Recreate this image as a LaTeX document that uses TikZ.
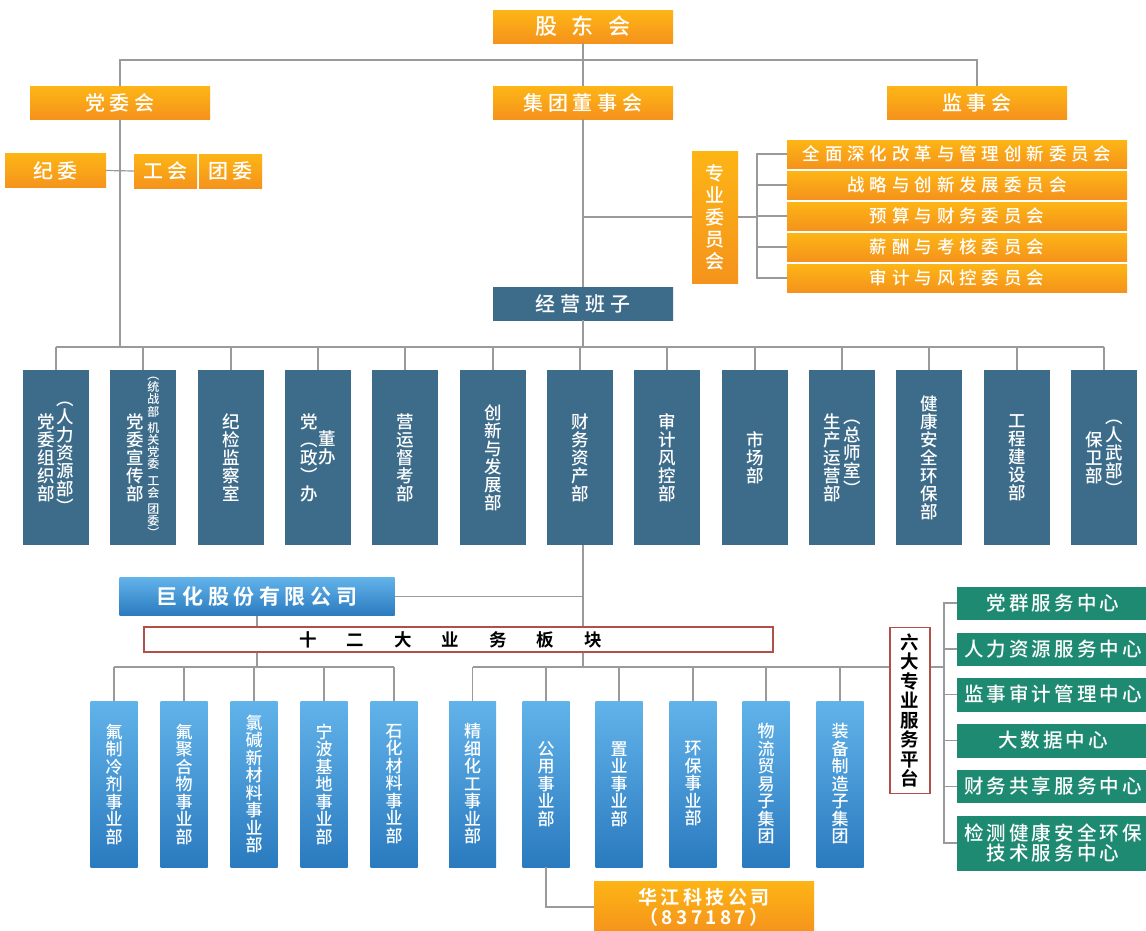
\documentclass[tikz,border=0pt]{standalone}
\usepackage{fontspec}
\setmainfont{Noto Sans CJK SC Medium}[BoldFont={Noto Sans CJK SC Bold}]
\definecolor{orgtop}{HTML}{FDB515}
\definecolor{orgbot}{HTML}{F5931C}
\definecolor{deptblue}{HTML}{3D6C8B}
\definecolor{butop}{HTML}{62B3EA}
\definecolor{bubot}{HTML}{2A7ABF}
\definecolor{svcgreen}{HTML}{1F8A72}
\definecolor{brdred}{HTML}{B24F48}
\definecolor{linegray}{HTML}{9A9A9A}
% vertical text: one character per line
\newcommand\colgap{}
\def\vtxtA#1{\ifx#1\relax\else\ifx#1\colgap\kern4pt\else\hbox to 1em{\hss#1\hss}\fi\expandafter\vtxtA\fi}
\newcommand\vtxt[2][]{\vcenter{#1\vtxtA#2\relax}}
\begin{document}
\begin{tikzpicture}[x=1pt,y=-1pt]
        \tikzstyle{block} = [rectangle, inner sep=0pt, text=white, align=center]
        \tikzstyle{orgbox} = [block, top color=orgtop, bottom color=orgbot]
        \tikzstyle{title} = [orgbox, minimum width=180, minimum height=33, font={\fontsize{20}{22}\selectfont\addfontfeature{LetterSpace=24}}]
        \tikzstyle{cmte} = [orgbox, minimum width=340, minimum height=28, font={\fontsize{17.5}{19}\selectfont\addfontfeature{LetterSpace=28}}]
        \tikzstyle{dept} = [block, fill=deptblue, minimum width=66, minimum height=175, font=\fontsize{17.5}{18}\selectfont]
        \tikzstyle{unit} = [block, top color=butop, bottom color=bubot, minimum width=47, minimum height=166, font=\fontsize{17}{17.5}\selectfont]
        \tikzstyle{svc} = [block, fill=svcgreen, minimum width=192, font={\fontsize{19.5}{20}\selectfont\addfontfeature{LetterSpace=16}}]
        \tikzstyle{frame} = [block, fill=white, draw=brdred, line width=1.3, text=black, font=\bfseries]
        \tikzstyle{line} = [draw=linegray, line width=1.2]
        \fill[white] (0,0) rectangle (1146,930);
        \useasboundingbox (0,0) rectangle (1146,930);
        \coordinate (topbus) at (0,60);
        \coordinate (deptbus) at (0,347);
        \coordinate (bus2) at (0,667);
        \coordinate (brk) at (757,0);
        \coordinate (sbrk) at (944,0);
        % governance
        \node[title, font=\fontsize{22}{24}\selectfont] (gdh) at (583,26.5) {股\hspace{15pt}东\hspace{15pt}会};
        \node[title] (dwh) at (120,102.5) {党委会};
        \node[title] (jtdsh) at (583,102.5) {集团董事会};
        \node[title] (jsh) at (977,102.5) {监事会};
        \node[title, minimum width=101, minimum height=34] (jw) at (55.5,170.5) {纪委};
        \node[title, minimum width=63, minimum height=34] (gh) at (165.5,171) {工会};
        \node[title, minimum width=63, minimum height=34] (tw) at (230.5,171) {团委};
        \node[orgbox, minimum width=46, minimum height=132, font=\fontsize{19}{22}\selectfont] (zywyh) at (715,217) {$\vtxt{专业委员会}$};
        \node[cmte] (c1) at (957,154) {全面深化改革与管理创新委员会};
        \node[cmte] (c2) at (957,185) {战略与创新发展委员会};
        \node[cmte] (c3) at (957,216) {预算与财务委员会};
        \node[cmte] (c4) at (957,247) {薪酬与考核委员会};
        \node[cmte] (c5) at (957,278) {审计与风控委员会};
        \node[title, fill=deptblue, top color=deptblue, bottom color=deptblue] (jybz) at (583,303.5) {经营班子};
        % functional departments
        \node[dept] (d1) at (56,457.5) {$\vtxt{党委组织部}\kern2pt\vtxt{︵人力资源部︶}$};
        \node[dept] (d2) at (143,457.5) {$\vtxt{党委宣传部}\kern3pt\vtxt[\fontsize{12}{12.2}\selectfont]{︵统战部\colgap 机关党委\colgap 工会\colgap 团委︶}$};
        \node[dept] (d3) at (231,457.5) {$\vtxt{纪检监察室}$};
        \node[dept] (d4) at (318,457.5) {$\vtxt{党︵政︶办}\kern1pt\raise10pt\hbox{$\vtxt{董办}$}$};
        \node[dept] (d5) at (405,457.5) {$\vtxt{营运督考部}$};
        \node[dept] (d6) at (493,457.5) {$\vtxt{创新与发展部}$};
        \node[dept] (d7) at (580,457.5) {$\vtxt{财务资产部}$};
        \node[dept] (d8) at (667,457.5) {$\vtxt{审计风控部}$};
        \node[dept] (d9) at (755,457.5) {$\vtxt{市场部}$};
        \node[dept] (d10) at (842,457.5) {$\vtxt{生产运营部}\kern2pt\vtxt{︵总师室︶}$};
        \node[dept] (d11) at (929,457.5) {$\vtxt{健康安全环保部}$};
        \node[dept] (d12) at (1017,457.5) {$\vtxt{工程建设部}$};
        \node[dept] (d13) at (1104,457.5) {$\vtxt{保卫部}\kern2pt\vtxt{︵人武部︶}$};
        % listed company and business units
        \node[block, top color=butop, bottom color=bubot, minimum width=275, minimum height=38, font={\fontsize{21}{22}\bfseries\selectfont\addfontfeature{LetterSpace=22}}] (jh) at (257,596.5) {巨化股份有限公司};
        \node[frame, minimum width=629, minimum height=25, font=\fontsize{17.5}{20}\bfseries\selectfont] (sedb) at (458.5,639.5) {十\hspace{30pt}二\hspace{30pt}大\hspace{30pt}业\hspace{30pt}务\hspace{30pt}板\hspace{30pt}块\hspace{16pt}};
        \node[unit] (b1) at (114,784) {$\vtxt{氟制冷剂事业部}$};
        \node[unit] (b2) at (184,784) {$\vtxt{氟聚合物事业部}$};
        \node[unit] (b3) at (254,784) {$\vtxt{氯碱新材料事业部}$};
        \node[unit] (b4) at (324,784) {$\vtxt{宁波基地事业部}$};
        \node[unit] (b5) at (394,784) {$\vtxt{石化材料事业部}$};
        \node[unit] (b6) at (472.5,784) {$\vtxt{精细化工事业部}$};
        \node[unit] (b7) at (546,784) {$\vtxt{公用事业部}$};
        \node[unit] (b8) at (619,784) {$\vtxt{置业事业部}$};
        \node[unit] (b9) at (693,784) {$\vtxt{环保事业部}$};
        \node[unit] (b10) at (766,784) {$\vtxt{物流贸易子集团}$};
        \node[unit] (b11) at (840,784) {$\vtxt{装备制造子集团}$};
        \node[orgbox, minimum width=220, minimum height=52, font={\fontsize{19}{20}\bfseries\selectfont\addfontfeature{LetterSpace=18}}] (hj) at (704,907) {华江科技公司\\（837187）};
        % service platforms
        \node[frame, minimum width=40, minimum height=166, font=\fontsize{18.5}{19.5}\bfseries\selectfont] (lds) at (910,710.5) {$\vtxt{六大专业服务平台}$};
        \node[svc, minimum height=33] (s1) at (1053,603) {党群服务中心};
        \node[svc, minimum height=33] (s2) at (1053,649) {人力资源服务中心};
        \node[svc, minimum height=34] (s3) at (1053,694.5) {监事审计管理中心};
        \node[svc, minimum height=34] (s4) at (1053,740.5) {大数据中心};
        \node[svc, minimum height=33] (s5) at (1053,786.5) {财务共享服务中心};
        \node[svc, minimum height=55] (s6) at (1053,843) {检测健康安全环保\\技术服务中心};
        % connectors
        \draw[line] (gdh.south) -- (jtdsh.north);
        \draw[line] (dwh.north) -- (dwh.north |- topbus) -| (jsh.north);
        \draw[line] (dwh.south) -- (dwh.south |- deptbus);
        \draw[line] (jw.east) -- (gh.west);
        \draw[line] (jtdsh.south) -- (jybz.north);
        \draw[line] (jtdsh.south |- zywyh.west) -- (zywyh.west);
        \draw[line] (zywyh.east) -- (zywyh.east -| brk);
        \draw[line] (c1.west) -- (c1.west -| brk) -- (c5.west -| brk) -- (c5.west);
        \foreach \i in {2,3,4}
            \draw[line] (c\i.west) -- (c\i.west -| brk);
        \draw[line] (jybz.south) -- (jybz.south |- deptbus);
        \draw[line] (d1.north |- deptbus) -- (d13.north |- deptbus);
        \foreach \i in {1,...,13}
            \draw[line] (d\i.north) -- (d\i.north |- deptbus);
        \draw[line] (jybz.south |- d7.south) -- (jybz.south |- sedb.north);
        \draw[line] (jybz.south |- sedb.south) -- (jybz.south |- bus2);
        \draw[line] (jh.east) -- (jh.east -| jybz.south);
        \draw[line] (jh.south) -- (jh.south |- sedb.north);
        \draw[line] (jh.south |- sedb.south) -- (jh.south |- bus2);
        \draw[line] (b1.north |- bus2) -- (b5.north |- bus2);
        \draw[line] (b6.north |- bus2) -- (lds.west |- bus2);
        \foreach \i in {1,...,11}
            \draw[line] (b\i.north) -- (b\i.north |- bus2);
        \draw[line] (b7.south) |- (hj.west);
        \draw[line] (lds.east |- bus2) -- (sbrk |- bus2);
        \draw[line] (s1.west) -- (s1.west -| sbrk) -- (s6.west -| sbrk) -- (s6.west);
        \foreach \i in {2,...,5}
            \draw[line] (s\i.west) -- (s\i.west -| sbrk);
\end{tikzpicture}
\end{document}
